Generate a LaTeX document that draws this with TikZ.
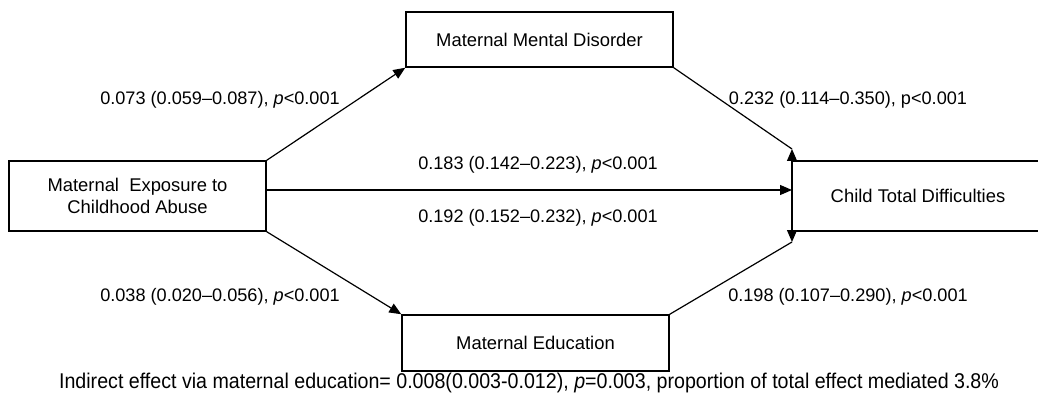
\documentclass[tikz,border=0pt]{standalone}
\usepackage{fontspec}
\setmainfont{Liberation Sans}
\usetikzlibrary{arrows.meta}
\begin{document}
\begin{tikzpicture}[x=0.75pt,y=-0.75pt,
  box/.style={draw=black,line width=1.1pt,inner sep=0pt,align=center,font=\fontsize{13.8pt}{17pt}\selectfont},
  tip/.style={Triangle[length=9pt,width=7.5pt]},
  conn/.style={line width=0.9pt,-{Triangle[length=9pt,width=7.5pt]}},
  lab/.style={font=\fontsize{13.6pt}{16pt}\selectfont,inner sep=0pt}]
\clip (0,0) rectangle (1038,399);
\useasboundingbox (0,0) rectangle (1038,399);
\node[box,minimum width=192.75pt,minimum height=52.5pt] (L) at (137.5,196) {Maternal\ \ Exposure to\\Childhood Abuse};
\node[box,minimum width=200.25pt,minimum height=41.25pt] (T) at (539.5,39.5) {Maternal Mental Disorder};
\node[box,minimum width=200.25pt,minimum height=42pt] (B) at (535.5,343) {Maternal Education};
\node[box,minimum width=189pt,minimum height=52.5pt] (R) at (918,196) {Child Total Difficulties};
\coordinate (vt) at (792,149);
\coordinate (vb) at (792,242);
\coordinate (h) at (792,190);
\draw[conn] (L.north east) -- (T.south west);
\draw[conn] (L.south east) -- (B.north west);
\draw[line width=0.9pt] (T.south east) -- (vt);
\draw[line width=0.9pt] (B.north east) -- (vb);
\draw[conn] (L.east |- h) -- (h);
\draw[line width=0.9pt,{Triangle[length=9pt,width=7.5pt]}-{Triangle[length=9pt,width=7.5pt]}] (vt) -- (vb);
\node[lab] (l1) at (220,100) {0.073 (0.059–0.087), \textit{p}<0.001};
\node[lab] (l2) at (848,100) {0.232 (0.114–0.350), p<0.001};
\node[lab] (l3) at (538,165) {0.183 (0.142–0.223), \textit{p}<0.001};
\node[lab] (l4) at (538,218) {0.192 (0.152–0.232), \textit{p}<0.001};
\node[lab] (l5) at (220,297) {0.038 (0.020–0.056), \textit{p}<0.001};
\node[lab] (l6) at (848,297) {0.198 (0.107–0.290), \textit{p}<0.001};
\node[lab] (note) at (529,383) {\scalebox{0.92}[1]{\fontsize{16pt}{18pt}\selectfont Indirect effect via maternal education= 0.008(0.003-0.012), \textit{p}=0.003, proportion of total effect mediated 3.8\%}};
\end{tikzpicture}
\end{document}
